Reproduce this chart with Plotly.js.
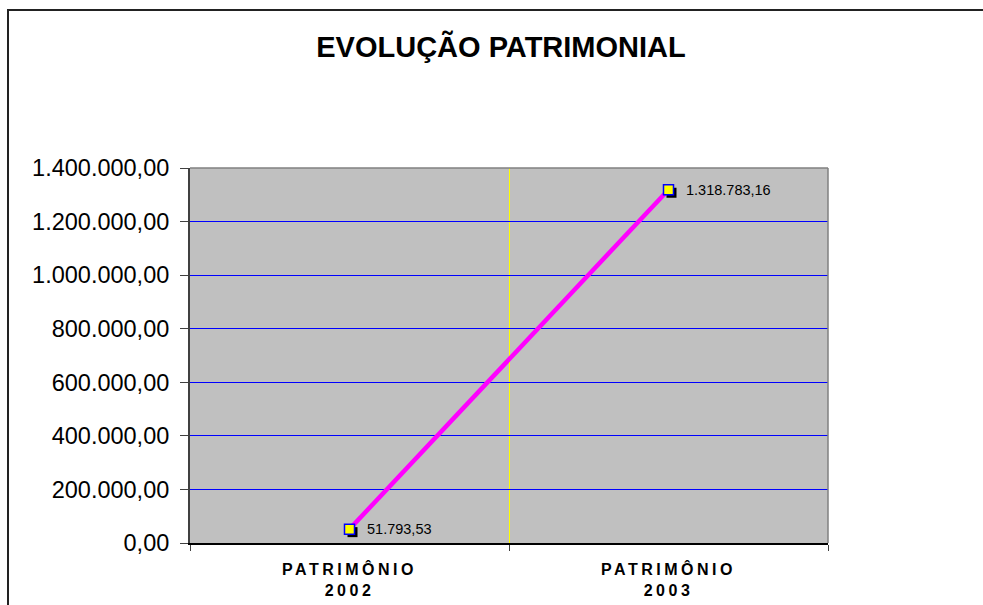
<!DOCTYPE html>
<html>
<head>
<meta charset="utf-8">
<script src="https://cdn.plot.ly/plotly-3.0.1.min.js"></script>
<style>
  body { margin: 0; background: #fff; }
  #chart { width: 983px; height: 605px; }
</style>
</head>
<body>
<div id="chart"></div>
<script>
// data
var categories = ["PATRIMÔNIO<br>2002", "PATRIMÔNIO<br>2003"];
var patrimonio = [51793.53, 1318783.16];
var yTicks = [0, 200000, 400000, 600000, 800000, 1000000, 1200000, 1400000];

// plot area in pixels (note: "top" is reserved on window, so prefix them)
var W = 983, H = 605;
var pLeft = 190, pRight = 828, pTop = 168, pBottom = 543;
var plotW = pRight - pLeft, plotH = pBottom - pTop;

var xRange = [-0.5, 1.5];
var yRange = [0, 1400000];

// shadow offset (3px right, 3px down) done with shifted hidden axes
var shadowPx = 3;
var dx = shadowPx * (xRange[1] - xRange[0]) / plotW;
var dy = shadowPx * (yRange[1] - yRange[0]) / plotH;

// pt-BR number format
function fmt(v) {
  var parts = v.toFixed(2).split(".");
  var intPart = parts[0].replace(/\B(?=(\d{3})+(?!\d))/g, ".");
  return intPart + "," + parts[1];
}

var font = "Liberation Sans, Arial, sans-serif";

// invisible trace so the visible axes (x, y) get drawn
var base = {
  x: categories,
  y: patrimonio,
  type: "scatter",
  mode: "markers",
  marker: { size: 1, opacity: 0 },
  hoverinfo: "skip",
  showlegend: false
};

var shadow = {
  x: categories,
  y: patrimonio,
  xaxis: "x2",
  yaxis: "y2",
  type: "scatter",
  mode: "markers",
  marker: { symbol: "square", size: 10, color: "#000000" },
  cliponaxis: false,
  hoverinfo: "skip",
  showlegend: false
};

var trace = {
  x: categories,
  y: patrimonio,
  xaxis: "x3",
  yaxis: "y3",
  type: "scatter",
  mode: "lines+markers",
  line: { color: "#FF00FF", width: 4.5 },
  marker: { symbol: "square", size: 10, color: "#FFFF00", line: { color: "#0000FF", width: 1.5 } },
  cliponaxis: false,
  showlegend: false
};

// value labels next to each point
var labels = categories.map(function (c, i) {
  return {
    x: c, y: patrimonio[i], xref: "x3", yref: "y3",
    text: fmt(patrimonio[i]),
    showarrow: false, xanchor: "left", yanchor: "middle",
    xshift: 15, yshift: 0,
    font: { family: font, size: 14.5, color: "#000000" }
  };
});

var data = [base, shadow, trace];

var layout = {
  width: W,
  height: H,
  margin: { l: pLeft, r: W - pRight, t: pTop, b: H - pBottom, pad: 0 },
  paper_bgcolor: "#FFFFFF",
  plot_bgcolor: "#C0C0C0",
  separators: ",.",
  showlegend: false,
  title: {
    text: "EVOLUÇÃO PATRIMONIAL",
    font: { family: font, size: 29, color: "#000000", weight: "bold" },
    x: 501 / W, xref: "container", xanchor: "center",
    y: 1 - 47 / H, yref: "container", yanchor: "middle"
  },
  xaxis: {
    type: "category",
    range: xRange,
    tickson: "boundaries",
    ticks: "outside",
    ticklen: 6,
    tickwidth: 1,
    tickcolor: "#404040",
    showgrid: true,
    gridcolor: "#FFFF00",
    gridwidth: 1,
    showline: true,
    linecolor: "#000000",
    linewidth: 2,
    zeroline: false,
    ticklabelstandoff: 11,
    tickfont: { family: font, size: 16, color: "#000000", weight: "bold" },
    fixedrange: true
  },
  yaxis: {
    range: yRange,
    tickvals: yTicks,
    tickformat: ",.2f",
    ticks: "outside",
    ticklen: 8,
    tickwidth: 1,
    tickcolor: "#404040",
    showgrid: true,
    gridcolor: "#0000FF",
    gridwidth: 1,
    showline: true,
    linecolor: "#404040",
    linewidth: 2,
    zeroline: false,
    ticklabelstandoff: 6,
    tickfont: { family: font, size: 23.5, color: "#000000" },
    fixedrange: true
  },
  xaxis2: { type: "category", overlaying: "x", anchor: "y2", range: [xRange[0] - dx, xRange[1] - dx], visible: false, fixedrange: true },
  yaxis2: { overlaying: "y", anchor: "x2", range: [yRange[0] + dy, yRange[1] + dy], visible: false, fixedrange: true },
  xaxis3: { type: "category", overlaying: "x", anchor: "y3", range: xRange, visible: false, fixedrange: true },
  yaxis3: { overlaying: "y", anchor: "x3", range: yRange, visible: false, fixedrange: true },
  annotations: labels,
  shapes: [
    // gray top and right edges of the plot area
    { type: "line", xref: "paper", yref: "paper", x0: 0, x1: 1, y0: 1, y1: 1, line: { color: "#808080", width: 1.5 } },
    { type: "line", xref: "paper", yref: "paper", x0: 1, x1: 1, y0: 0, y1: 1, line: { color: "#808080", width: 1.5 } },
    // outer chart frame
    { type: "rect", xref: "paper", yref: "paper",
      x0: (8 - pLeft) / plotW, x1: 1.6, y0: -0.5, y1: (pBottom - 10) / plotH,
      line: { color: "#222222", width: 2 } }
  ]
};

Plotly.newPlot("chart", data, layout, { displayModeBar: false, staticPlot: true }).then(function (gd) {
  // spaced-out category labels like the original
  gd.querySelectorAll(".xtick text").forEach(function (t) {
    t.setAttribute("letter-spacing", "3.5px");
  });
});
</script>
</body>
</html>
